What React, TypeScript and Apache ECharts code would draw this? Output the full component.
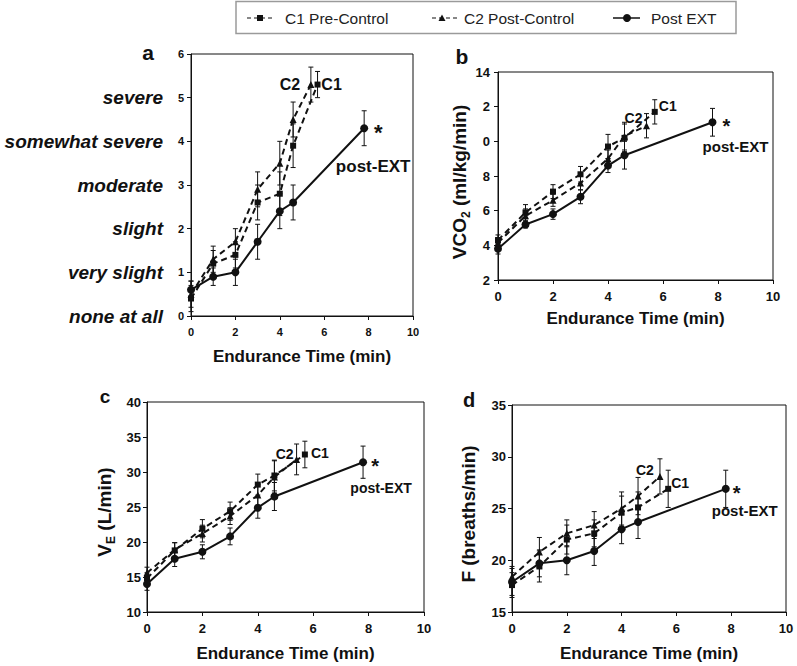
import React, { useEffect, useRef } from 'react';
import * as echarts from 'echarts';

// ---------- data ----------
const xC1 = [0, 1, 2, 3, 4, 4.6, 5.7];
const xC2 = [0, 1, 2, 3, 4, 4.6, 5.4];
const xPost = [0, 1, 2, 3, 4, 4.6, 7.8];

// panel a: perceived exertion
const aC1 = [0.4, 1.2, 1.4, 2.6, 2.8, 3.9, 5.3];
const aC2 = [0.5, 1.3, 1.7, 2.9, 3.5, 4.5, 5.3];
const aPost = [0.6, 0.9, 1.0, 1.7, 2.4, 2.6, 4.3];
const aC1Err = [0.3, 0.3, 0.3, 0.4, 0.5, 0.5, 0.3];
const aC2Err = [0.3, 0.3, 0.3, 0.4, 0.5, 0.4, 0.4];
const aPostErr = [0.2, 0.2, 0.3, 0.4, 0.4, 0.4, 0.4];
const aWords = ['none at all', 'very slight', 'slight', 'moderate', 'somewhat severe', 'severe', ''];

// panel b: VCO2
const bC1 = [4.3, 5.9, 7.1, 8.1, 9.7, 10.2, 11.7];
const bC2 = [4.15, 5.7, 6.6, 7.6, 9.0, 10.3, 10.9];
const bPost = [3.8, 5.2, 5.8, 6.8, 8.6, 9.2, 11.1];
const bC1Err = [0.3, 0.45, 0.4, 0.45, 0.7, 0.8, 0.7];
const bC2Err = [0.3, 0.4, 0.35, 0.4, 0.5, 0.8, 0.7];
const bPostErr = [0.3, 0.2, 0.3, 0.4, 0.4, 0.8, 0.8];
const bYTicks = [2, 4, 6, 8, 10, 12, 14];
const bYLabels = ['2', '4', '6', '8', '0', '2', '14'];

// panel c: VE
const cC1 = [14.8, 18.8, 21.9, 24.4, 28.2, 29.5, 32.5];
const cC2 = [15.6, 18.9, 21.2, 23.7, 26.7, 29.3, 31.8];
const cPost = [14.0, 17.6, 18.6, 20.8, 24.9, 26.5, 31.4];
const cC1Err = [0.8, 1.1, 1.3, 1.3, 1.5, 2.2, 1.9];
const cC2Err = [0.8, 1.0, 1.2, 1.2, 1.5, 2.3, 2.2];
const cPostErr = [0.9, 1.1, 1.0, 1.2, 1.5, 2.0, 2.3];

// panel d: F
const dC1 = [17.6, 19.4, 22.0, 22.6, 24.6, 25.1, 26.9];
const dC2 = [18.4, 20.8, 22.6, 23.4, 25.0, 26.2, 28.1];
const dPost = [17.9, 19.7, 20.0, 20.9, 23.0, 23.7, 26.9];
const dC1Err = [1.2, 1.5, 1.4, 1.3, 1.6, 1.5, 1.8];
const dC2Err = [1.0, 1.4, 1.3, 1.3, 1.6, 1.8, 1.7];
const dPostErr = [1.3, 1.3, 1.4, 1.4, 1.4, 1.6, 1.8];

const legendNames = ['C1 Pre-Control', 'C2 Post-Control', 'Post EXT'];
const xTitle = 'Endurance Time (min)';

// ---------- styles ----------
const FONT = '"Liberation Sans", Arial, Helvetica, sans-serif';
const INK = '#111';

const errData = (xs: number[], ys: number[], es: number[]) =>
  xs.map((x, i) => [x, ys[i] - es[i], ys[i] + es[i]]);
const pts = (xs: number[], ys: number[]) => xs.map((x, i) => [x, ys[i]]);

const renderErr = (params: any, api: any) => {
  const x = api.value(0);
  const lo = api.coord([x, api.value(1)]);
  const hi = api.coord([x, api.value(2)]);
  const w = 2.5;
  const st = { stroke: INK, lineWidth: 1 };
  return {
    type: 'group',
    children: [
      { type: 'line', shape: { x1: lo[0], y1: lo[1], x2: hi[0], y2: hi[1] }, style: st },
      { type: 'line', shape: { x1: hi[0] - w, y1: hi[1], x2: hi[0] + w, y2: hi[1] }, style: st },
      { type: 'line', shape: { x1: lo[0] - w, y1: lo[1], x2: lo[0] + w, y2: lo[1] }, style: st },
    ],
  };
};

interface PanelCfg {
  c1: number[]; c2: number[]; post: number[];
  c1e: number[]; c2e: number[]; poste: number[];
  annSize: number; postSize: number;
  offC1: number[]; offC2: number[]; offStar: number[]; offPost: number[];
}

const annLabel = (text: string, off: number[], size: number) => ({
  show: true,
  formatter: text,
  position: 'inside',
  offset: off,
  color: INK,
  fontWeight: 'bold',
  fontSize: size,
  fontFamily: FONT,
});

function panelSeries(p: PanelCfg, xi: number, yi: number) {
  const common = { xAxisIndex: xi, yAxisIndex: yi };
  const mp = (items: any[]) => ({ symbol: 'circle', symbolSize: 0, silent: true, data: items });
  return [
    { type: 'custom', ...common, renderItem: renderErr, data: errData(xC1, p.c1, p.c1e), encode: { x: 0, y: [1, 2] }, silent: true, z: 1 },
    { type: 'custom', ...common, renderItem: renderErr, data: errData(xC2, p.c2, p.c2e), encode: { x: 0, y: [1, 2] }, silent: true, z: 1 },
    { type: 'custom', ...common, renderItem: renderErr, data: errData(xPost, p.post, p.poste), encode: { x: 0, y: [1, 2] }, silent: true, z: 1 },
    {
      type: 'line', name: legendNames[0], ...common, data: pts(xC1, p.c1),
      symbol: 'rect', symbolSize: 6, showAllSymbol: true,
      lineStyle: { color: INK, width: 2, type: [6, 4] }, itemStyle: { color: INK }, z: 3,
      markPoint: mp([{ coord: [xC1[6], p.c1[6]], label: annLabel('C1', p.offC1, p.annSize) }]),
    },
    {
      type: 'line', name: legendNames[1], ...common, data: pts(xC2, p.c2),
      symbol: 'triangle', symbolSize: 7, showAllSymbol: true,
      lineStyle: { color: INK, width: 2, type: [6, 4] }, itemStyle: { color: INK }, z: 3,
      markPoint: mp([{ coord: [xC2[6], p.c2[6]], label: annLabel('C2', p.offC2, p.annSize) }]),
    },
    {
      type: 'line', name: legendNames[2], ...common, data: pts(xPost, p.post),
      symbol: 'circle', symbolSize: 8, showAllSymbol: true,
      lineStyle: { color: INK, width: 2, type: 'solid' }, itemStyle: { color: INK }, z: 3,
      markPoint: mp([
        { coord: [xPost[6], p.post[6]], label: annLabel('*', p.offStar, p.annSize + 6) },
        { coord: [xPost[6], p.post[6]], label: annLabel('post-EXT', p.offPost, p.postSize) },
      ]),
    },
  ];
}

const tickLabel = (size: number, margin: number, extra: any = {}) => ({
  color: INK, fontWeight: 'bold', fontSize: size, fontFamily: FONT, margin, ...extra,
});
const axisLine = { show: true, lineStyle: { color: INK, width: 1 } };
const axisTick = { show: true, inside: false, length: 4, lineStyle: { color: INK, width: 1 } };

const xAxisFor = (gi: number, labelSize: number, gap: number) => ({
  type: 'value', gridIndex: gi, min: 0, max: 10, interval: 2,
  axisLine, axisTick, splitLine: { show: false },
  axisLabel: tickLabel(labelSize, 10),
  name: xTitle, nameLocation: 'middle', nameGap: gap,
  nameTextStyle: { color: INK, fontWeight: 'bold', fontSize: 17, fontFamily: FONT },
});

const yNameStyle = (shift: number) => ({
  color: INK, fontWeight: 'bold', fontSize: 19, fontFamily: FONT,
  padding: [0, shift, 0, 0],
  rich: {
    m: { color: INK, fontWeight: 'bold', fontSize: 19, fontFamily: FONT, lineHeight: 22, verticalAlign: 'top' },
    sub: { color: INK, fontWeight: 'bold', fontSize: 12, fontFamily: FONT, lineHeight: 12, verticalAlign: 'top', padding: [10, 0, 0, 0] },
  },
});

export default function App() {
  const ref = useRef<HTMLDivElement>(null);
  useEffect(() => {
    if (!ref.current) return;
    const chart = echarts.init(ref.current, undefined, { renderer: 'svg' });

    const pa: PanelCfg = { c1: aC1, c2: aC2, post: aPost, c1e: aC1Err, c2e: aC2Err, poste: aPostErr,
      annSize: 16, postSize: 17, offC1: [14, 0], offC2: [-21, 0], offStar: [14, 4], offPost: [9, 38] };
    const pb: PanelCfg = { c1: bC1, c2: bC2, post: bPost, c1e: bC1Err, c2e: bC2Err, poste: bPostErr,
      annSize: 14, postSize: 15, offC1: [13, -6], offC2: [-13, -8], offStar: [14, 4], offPost: [23, 24] };
    const pc: PanelCfg = { c1: cC1, c2: cC2, post: cPost, c1e: cC1Err, c2e: cC2Err, poste: cPostErr,
      annSize: 14, postSize: 14, offC1: [15, -2], offC2: [-12, -5], offStar: [12, 4], offPost: [18, 26] };
    const pd: PanelCfg = { c1: dC1, c2: dC2, post: dPost, c1e: dC1Err, c2e: dC2Err, poste: dPostErr,
      annSize: 14, postSize: 15, offC1: [12, -6], offC2: [-15, -6], offStar: [11, 4], offPost: [19, 22] };

    const gridStyle = { show: true, borderColor: INK, borderWidth: 1, backgroundColor: 'transparent', containLabel: false };

    const option: any = {
      animation: false,
      backgroundColor: '#ffffff',
      textStyle: { fontFamily: FONT },
      grid: [
        { ...gridStyle, left: 191, top: 54, width: 222, height: 262 },
        { ...gridStyle, left: 498, top: 72, width: 275, height: 208 },
        { ...gridStyle, left: 147, top: 402, width: 277, height: 210 },
        { ...gridStyle, left: 512, top: 405, width: 274, height: 207 },
      ],
      xAxis: [
        xAxisFor(0, 11, 32),
        xAxisFor(1, 13, 30),
        xAxisFor(2, 13, 33),
        xAxisFor(3, 13, 33),
      ],
      yAxis: [
        {
          type: 'value', gridIndex: 0, min: 0, max: 6, interval: 1, position: 'left',
          axisLine, axisTick, splitLine: { show: false },
          axisLabel: tickLabel(11, 7),
        },
        {
          type: 'value', gridIndex: 0, min: 0, max: 6, interval: 1, position: 'left',
          axisLine: { show: false }, axisTick: { show: false }, splitLine: { show: false },
          axisLabel: tickLabel(19, 28, { fontStyle: 'italic', formatter: (v: number) => aWords[Math.round(v)] ?? '' }),
        },
        {
          type: 'value', gridIndex: 1, min: 2, max: 14, interval: 2,
          axisLine, axisTick, splitLine: { show: false },
          axisLabel: tickLabel(13, 8, { formatter: (v: number) => bYLabels[bYTicks.indexOf(v)] ?? String(v) }),
          name: '{m|VCO}{sub|2}{m| (ml/kg/min)}', nameLocation: 'middle', nameGap: 25, nameTextStyle: yNameStyle(12),
        },
        {
          type: 'value', gridIndex: 2, min: 10, max: 40, interval: 5,
          axisLine, axisTick, splitLine: { show: false },
          axisLabel: tickLabel(13, 6),
          name: '{m|V}{sub|E}{m| (L/min)}', nameLocation: 'middle', nameGap: 30, nameTextStyle: yNameStyle(10),
        },
        {
          type: 'value', gridIndex: 3, min: 15, max: 35, interval: 5,
          axisLine, axisTick, splitLine: { show: false },
          axisLabel: tickLabel(13, 6),
          name: 'F (breaths/min)', nameLocation: 'middle', nameGap: 34, nameTextStyle: yNameStyle(11),
        },
      ],
      series: [
        ...panelSeries(pa, 0, 0),
        ...panelSeries(pb, 1, 2),
        ...panelSeries(pc, 2, 3),
        ...panelSeries(pd, 3, 4),
      ],
      graphic: [
        // legend box
        { type: 'rect', shape: { x: 236, y: 1.5, width: 500, height: 32 }, style: { fill: 'none', stroke: '#9a9a9a', lineWidth: 1.5 } },
        { type: 'line', shape: { x1: 247, y1: 18, x2: 272, y2: 18 }, style: { stroke: INK, lineWidth: 1.2, lineDash: [4, 3] } },
        { type: 'rect', shape: { x: 257, y: 15, width: 6, height: 6 }, style: { fill: INK } },
        { type: 'text', x: 285, y: 18, style: { text: legendNames[0], fill: '#222', fontSize: 15.5, fontFamily: FONT, verticalAlign: 'middle', align: 'left' } },
        { type: 'line', shape: { x1: 432, y1: 18, x2: 460, y2: 18 }, style: { stroke: INK, lineWidth: 1.2, lineDash: [4, 3] } },
        { type: 'polygon', shape: { points: [[438.5, 21], [445.5, 21], [442, 14.5]] }, style: { fill: INK } },
        { type: 'text', x: 464, y: 18, style: { text: legendNames[1], fill: '#222', fontSize: 15.5, fontFamily: FONT, verticalAlign: 'middle', align: 'left' } },
        { type: 'line', shape: { x1: 613, y1: 18, x2: 640, y2: 18 }, style: { stroke: INK, lineWidth: 1.5 } },
        { type: 'circle', shape: { cx: 627, cy: 18, r: 4 }, style: { fill: INK } },
        { type: 'text', x: 651, y: 18, style: { text: legendNames[2], fill: '#222', fontSize: 15.5, fontFamily: FONT, verticalAlign: 'middle', align: 'left' } },
        // panel letters
        { type: 'text', x: 148, y: 52, style: { text: 'a', fill: INK, fontSize: 21, fontWeight: 'bold', fontFamily: FONT, align: 'center', verticalAlign: 'middle' } },
        { type: 'text', x: 462, y: 56, style: { text: 'b', fill: INK, fontSize: 21, fontWeight: 'bold', fontFamily: FONT, align: 'center', verticalAlign: 'middle' } },
        { type: 'text', x: 105, y: 396, style: { text: 'c', fill: INK, fontSize: 19, fontWeight: 'bold', fontFamily: FONT, align: 'center', verticalAlign: 'middle' } },
        { type: 'text', x: 469, y: 400, style: { text: 'd', fill: INK, fontSize: 20, fontWeight: 'bold', fontFamily: FONT, align: 'center', verticalAlign: 'middle' } },
      ],
    };
    chart.setOption(option);
    return () => chart.dispose();
  }, []);
  return <div ref={ref} style={{ position: 'absolute', left: 0, top: 0, width: 797, height: 666 }} />;
}
